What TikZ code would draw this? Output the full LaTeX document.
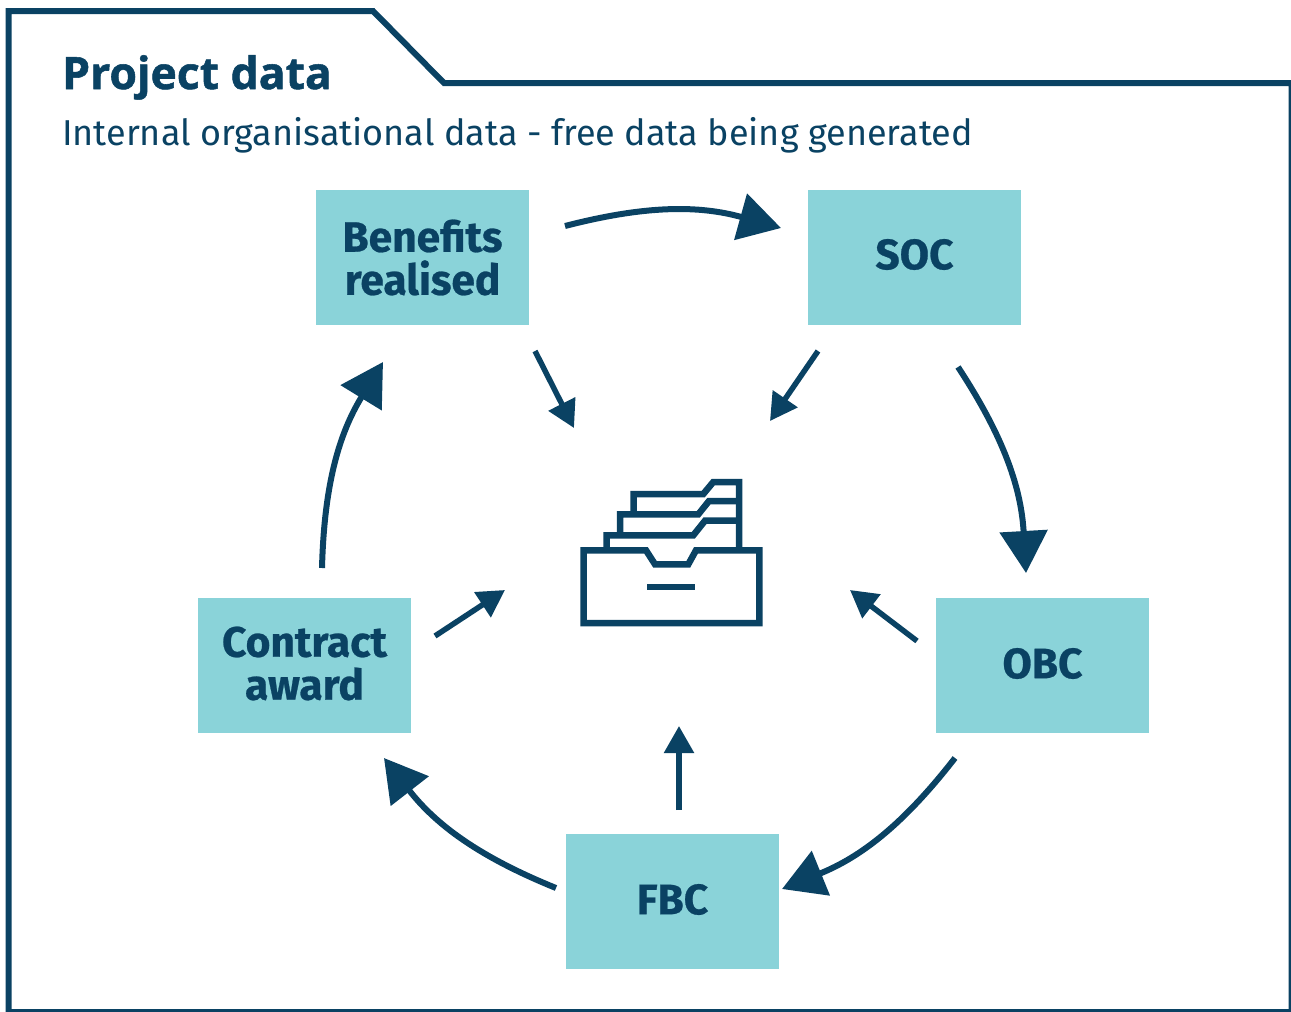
\documentclass[tikz,border=0pt]{standalone}
\usepackage{fontspec}
\setmainfont[BoldFeatures={FakeBold=0.6}]{Fira Sans}
\newfontfamily\titlefont[BoldFeatures={FakeBold=1.2}]{Open Sans}
\usetikzlibrary{arrows.meta}
\definecolor{navy}{HTML}{0A4263}
\definecolor{teal}{HTML}{8AD3D9}
\newcommand{\liftby}[2]{\raisebox{#1}[\height][\depth]{#2}}
\tikzset{
  stagebox/.style={fill=teal,minimum width=213pt,minimum height=135pt,inner sep=0pt,align=center,text=navy,font=\fontsize{42.5}{43}\selectfont\bfseries},
  bigarrow/.style={draw=navy,line width=6pt,-{Triangle[length=42pt,width=47pt]}},
  smallarrow/.style={draw=navy,line width=5.5pt,-{Triangle[length=27pt,width=29pt]}},
  iconline/.style={draw=navy,line width=6.5pt,miter limit=10}
}
\begin{document}
\begin{tikzpicture}[x=1pt,y=-1pt]
\useasboundingbox (0,0) rectangle (1291,1012);

\draw[draw=navy,line width=6pt] (8.5,1014) -- (8.5,11) -- (373,11) -- (444,83) -- (1291.5,83) -- (1291.5,1012) -- (8.5,1012);

\node (title) at (62,89) [anchor=base west,inner sep=0pt,text=navy,font=\titlefont\fontsize{44.5}{50}\selectfont\bfseries] {Project data};
\node (subtitle) at (62,145) [anchor=base west,inner sep=0pt,text=navy,font=\fontsize{36}{40}\selectfont] {Internal organisational data - free data being generated};

\node (benefits) at (422.5,257.5) [stagebox] {Benefits\\realised};
\node (soc) at (914.5,257.5) [stagebox] {\liftby{3pt}{SOC}};
\node (obc) at (1042.5,665.5) [stagebox] {\liftby{2pt}{OBC}};
\node (fbc) at (672.5,901.5) [stagebox] {\liftby{2pt}{FBC}};
\node (contract) at (304.5,665.5) [stagebox] {\liftby{2pt}{Contract}\\\liftby{2pt}{award}};

\coordinate (b1) at (565,226);
\coordinate (s1) at (781,228);
\coordinate (s2) at (958,367);
\coordinate (o1) at (1026,573);
\coordinate (o2) at (955,758);
\coordinate (f1) at (782,889);
\coordinate (f2) at (556,888);
\coordinate (c1) at (384,758);
\coordinate (c2) at (322,568);
\coordinate (b2) at (383,362);

\draw[bigarrow] (b1) to[bend left=15] (s1);
\draw[bigarrow] (s2) to[bend left=15] (o1);
\draw[bigarrow] (o2) to[bend left=15] (f1);
\draw[bigarrow] (f2) to[bend left=15] (c1);
\draw[bigarrow] (c2) to[bend left=15] (b2);

\coordinate (b3) at (535,351);
\coordinate (b4) at (574,428);
\coordinate (s3) at (818,351);
\coordinate (s4) at (770,421);
\coordinate (o3) at (917,641);
\coordinate (o4) at (850,590);
\coordinate (f3) at (679,810);
\coordinate (f4) at (679,726);
\coordinate (c3) at (435,636);
\coordinate (c4) at (505,590);

\draw[smallarrow] (b3) to (b4);
\draw[smallarrow] (s3) to (s4);
\draw[smallarrow] (o3) to (o4);
\draw[smallarrow] (f3) to (f4);
\draw[smallarrow] (c3) to (c4);

% drawer
\draw[iconline] (646,550.3) -- (583.7,550.3) -- (583.7,623) -- (759.3,623) -- (759.3,550.3) -- (696,550.3) -- (688.3,564.3) -- (655,564.3) -- cycle;
\draw[iconline] (647.3,587) -- (694.7,587);
\draw[iconline] (606.7,550.3) -- (606.7,535.3) -- (693.3,535.3) -- (705,520.7) -- (739,520.7);
\draw[iconline] (620,535.3) -- (620,514.3) -- (698.3,514.3) -- (709,501) -- (739,501);
\draw[iconline] (633.7,514.3) -- (633.7,494) -- (703.3,494) -- (713.3,482) -- (739,482) -- (739,550.3);
\end{tikzpicture}
\end{document}
